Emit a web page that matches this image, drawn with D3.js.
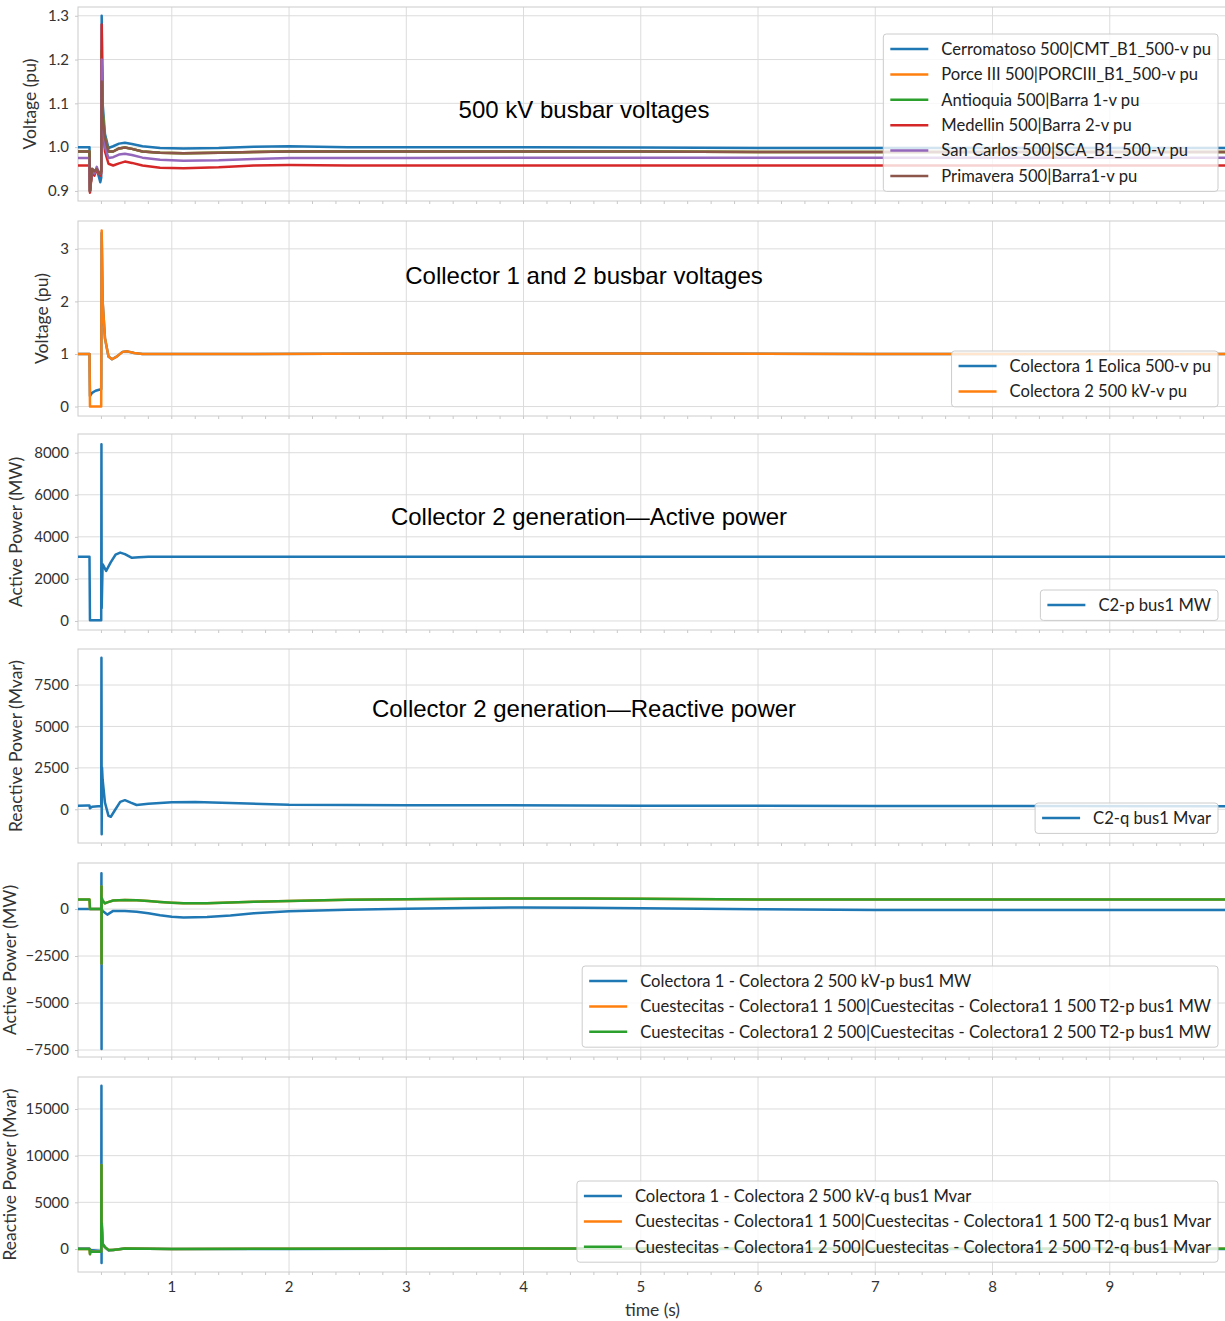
<!DOCTYPE html>
<html>
<head>
<meta charset="utf-8">
<script src="https://cdn.jsdelivr.net/npm/d3@7"></script>
<style>
  body { margin: 0; background: #fff; }
  svg { display: block; }
</style>
</head>
<body>
<div id="chart"></div>
<script>
// ---- data ----
var xTicks = [1, 2, 3, 4, 5, 6, 7, 8, 9];

// panel 1: 500 kV busbar voltages
var T1 = [0.2, 0.298, 0.302, 0.32, 0.34, 0.36, 0.38, 0.39, 0.398, 0.402, 0.41, 0.43, 0.46, 0.5, 0.55, 0.6, 0.66, 0.75, 0.9, 1.1, 1.4, 1.7, 2.0, 2.5, 3, 4, 5, 6, 7, 8, 9, 10];
var cerromatoso = [1.0, 1.0, 0.90, 0.95, 0.94, 0.95, 0.93, 0.92, 0.93, 1.30, 1.10, 1.03, 0.998, 1.002, 1.008, 1.010, 1.007, 1.002, 0.998, 0.997, 0.998, 1.001, 1.002, 1.0, 1.0, 1.0, 0.999, 0.998, 0.998, 0.998, 0.998, 0.998];
var porce = [0.99, 0.99, 0.90, 0.95, 0.945, 0.95, 0.94, 0.94, 0.945, 1.20, 1.08, 1.02, 0.99, 0.99, 0.997, 0.999, 0.996, 0.99, 0.987, 0.986, 0.987, 0.989, 0.99, 0.99, 0.99, 0.99, 0.99, 0.989, 0.989, 0.989, 0.989, 0.989];
var antioquia = [0.99, 0.99, 0.90, 0.95, 0.945, 0.95, 0.94, 0.94, 0.945, 1.22, 1.08, 1.02, 0.99, 0.99, 0.997, 0.999, 0.996, 0.99, 0.987, 0.986, 0.987, 0.989, 0.99, 0.99, 0.99, 0.99, 0.99, 0.989, 0.989, 0.989, 0.989, 0.989];
var medellin = [0.958, 0.958, 0.896, 0.945, 0.935, 0.95, 0.94, 0.935, 0.94, 1.28, 1.05, 0.99, 0.962, 0.958, 0.963, 0.967, 0.964, 0.958, 0.953, 0.952, 0.954, 0.958, 0.959, 0.958, 0.958, 0.958, 0.958, 0.958, 0.958, 0.958, 0.958, 0.958];
var sanCarlos = [0.975, 0.975, 0.90, 0.95, 0.94, 0.955, 0.94, 0.94, 0.945, 1.20, 1.06, 1.0, 0.975, 0.977, 0.983, 0.985, 0.982, 0.976, 0.971, 0.969, 0.970, 0.973, 0.975, 0.975, 0.975, 0.976, 0.976, 0.976, 0.976, 0.976, 0.976, 0.976];
var primavera = [0.99, 0.99, 0.90, 0.95, 0.945, 0.95, 0.94, 0.94, 0.945, 1.15, 1.07, 1.02, 0.99, 0.99, 0.997, 0.999, 0.996, 0.99, 0.987, 0.986, 0.987, 0.989, 0.99, 0.99, 0.99, 0.99, 0.99, 0.989, 0.989, 0.989, 0.989, 0.989];

// panel 2: collector busbar voltages
var T2 = [0.2, 0.298, 0.302, 0.32, 0.35, 0.38, 0.398, 0.402, 0.41, 0.43, 0.46, 0.49, 0.53, 0.58, 0.62, 0.68, 0.75, 0.9, 1.5, 3, 5, 7, 10];
var colectora1V = [1, 1, 0.2, 0.26, 0.3, 0.32, 0.33, 3.3, 2.0, 1.3, 0.95, 0.9, 0.95, 1.04, 1.05, 1.02, 1.0, 1.0, 1.0, 1.01, 1.01, 1.0, 1.0];
var colectora2V = [1, 1, 0, 0, 0, 0, 0, 3.35, 2.0, 1.3, 0.95, 0.9, 0.95, 1.04, 1.05, 1.02, 1.0, 1.0, 1.0, 1.01, 1.01, 1.0, 1.0];

// panel 3: collector 2 active power
var T3 = [0.2, 0.298, 0.302, 0.35, 0.398, 0.400, 0.402, 0.41, 0.44, 0.48, 0.52, 0.56, 0.6, 0.66, 0.72, 0.8, 1, 2, 5, 10];
var c2P = [3050, 3050, 30, 30, 30, 8400, 600, 2700, 2380, 2800, 3150, 3250, 3180, 3000, 3030, 3050, 3050, 3050, 3050, 3050];

// panel 4: collector 2 reactive power
var T4 = [0.2, 0.28, 0.298, 0.302, 0.32, 0.398, 0.400, 0.401, 0.402, 0.405, 0.41, 0.43, 0.46, 0.48, 0.52, 0.56, 0.6, 0.65, 0.7, 0.8, 1.0, 1.2, 1.5, 2.0, 3, 5, 7, 10];
var c2Q = [220, 230, 230, 60, 150, 200, 9150, 6000, -1500, 2500, 1800, 400, -400, -450, 0, 450, 550, 400, 260, 330, 420, 440, 380, 270, 250, 220, 200, 190];

// panel 5: line active power
var T5 = [0.2, 0.298, 0.302, 0.35, 0.398, 0.400, 0.401, 0.402, 0.41, 0.43, 0.45, 0.5, 0.6, 0.7, 0.8, 0.9, 1.0, 1.1, 1.3, 1.5, 1.7, 2.0, 2.5, 3, 3.5, 4, 4.5, 5, 6, 7, 8, 9, 10];
var lineC1C2P = [0, 0, 0, 0, 0, 1900, -7450, 0, -100, -200, -300, -100, -100, -150, -230, -330, -410, -450, -420, -340, -230, -120, -40, 10, 60, 80, 70, 40, -10, -50, -50, -50, -50];
var cuest1P = [500, 500, 0, 0, 0, 1200, -2900, 600, 450, 300, 350, 450, 480, 460, 420, 370, 330, 300, 310, 350, 390, 430, 490, 520, 550, 560, 555, 540, 510, 500, 500, 500, 500];
var cuest2P = [500, 500, 0, 0, 0, 1200, -2900, 600, 450, 300, 350, 450, 480, 460, 420, 370, 330, 300, 310, 350, 390, 430, 490, 520, 550, 560, 555, 540, 510, 500, 500, 500, 500];

// panel 6: line reactive power
var T6 = [0.2, 0.298, 0.302, 0.306, 0.35, 0.398, 0.400, 0.401, 0.402, 0.41, 0.43, 0.46, 0.5, 0.6, 1, 2, 4, 6, 8, 10];
var lineC1C2Q = [50, 50, 0, -100, -150, -200, 17500, -1500, 3000, 600, 200, -150, -100, 50, 0, 0, 50, 0, 0, 0];
var cuest1Q = [0, 0, -550, -300, -300, -300, 9000, 500, 2800, 500, 200, -100, -100, 50, 0, 30, 60, 30, 30, 30];
var cuest2Q = [0, 0, -550, -300, -300, -300, 9000, 500, 2800, 500, 200, -100, -100, 50, 0, 30, 60, 30, 30, 30];

var C = {blue:'#1f77b4', orange:'#ff7f0e', green:'#2ca02c', red:'#d62728', purple:'#9467bd', brown:'#8c564b'};

var panels = [
  {top:7, bottom:201, ydom:[0.877, 1.32], yticks:[0.9, 1.0, 1.1, 1.2, 1.3], fmt:d3.format('.1f'),
   label:'Voltage (pu)', labelX:30, title:'500 kV busbar voltages', titleX:584, titleY:110, legendY:34,
   series:[
     {t:T1, v:cerromatoso, c:C.blue,   name:'Cerromatoso 500|CMT_B1_500-v pu'},
     {t:T1, v:porce,       c:C.orange, name:'Porce III 500|PORCIII_B1_500-v pu'},
     {t:T1, v:antioquia,   c:C.green,  name:'Antioquia 500|Barra 1-v pu'},
     {t:T1, v:medellin,    c:C.red,    name:'Medellin 500|Barra 2-v pu'},
     {t:T1, v:sanCarlos,   c:C.purple, name:'San Carlos 500|SCA_B1_500-v pu'},
     {t:T1, v:primavera,   c:C.brown,  name:'Primavera 500|Barra1-v pu'}]},
  {top:221, bottom:416, ydom:[-0.18, 3.53], yticks:[0, 1, 2, 3], fmt:d3.format('d'),
   label:'Voltage (pu)', labelX:42, title:'Collector 1 and 2 busbar voltages', titleX:584, titleY:276, legendY:351,
   series:[
     {t:T2, v:colectora1V, c:C.blue,   name:'Colectora 1 Eolica 500-v pu'},
     {t:T2, v:colectora2V, c:C.orange, name:'Colectora 2 500 kV-v pu'}]},
  {top:434, bottom:630, ydom:[-430, 8890], yticks:[0, 2000, 4000, 6000, 8000], fmt:d3.format('d'),
   label:'Active Power (MW)', labelX:16, title:'Collector 2 generation\u2014Active power', titleX:589, titleY:517, legendY:590,
   series:[
     {t:T3, v:c2P, c:C.blue, name:'C2-p bus1 MW'}]},
  {top:649, bottom:843, ydom:[-2035, 9674], yticks:[0, 2500, 5000, 7500], fmt:d3.format('d'),
   label:'Reactive Power (Mvar)', labelX:16, title:'Collector 2 generation\u2014Reactive power', titleX:584, titleY:709, legendY:803,
   series:[
     {t:T4, v:c2Q, c:C.blue, name:'C2-q bus1 Mvar'}]},
  {top:863, bottom:1057, ydom:[-7872, 2447], yticks:[-7500, -5000, -2500, 0], fmt:d3.format('d'),
   label:'Active Power (MW)', labelX:10, legendY:966,
   series:[
     {t:T5, v:lineC1C2P, c:C.blue,   name:'Colectora 1 - Colectora 2 500 kV-p bus1 MW'},
     {t:T5, v:cuest1P,   c:C.orange, name:'Cuestecitas - Colectora1 1 500|Cuestecitas - Colectora1 1 500 T2-p bus1 MW'},
     {t:T5, v:cuest2P,   c:C.green,  name:'Cuestecitas - Colectora1 2 500|Cuestecitas - Colectora1 2 500 T2-p bus1 MW'}]},
  {top:1077, bottom:1272, ydom:[-2463, 18426], yticks:[0, 5000, 10000, 15000], fmt:d3.format('d'),
   label:'Reactive Power (Mvar)', labelX:10, legendY:1181,
   series:[
     {t:T6, v:lineC1C2Q, c:C.blue,   name:'Colectora 1 - Colectora 2 500 kV-q bus1 Mvar'},
     {t:T6, v:cuest1Q,   c:C.orange, name:'Cuestecitas - Colectora1 1 500|Cuestecitas - Colectora1 1 500 T2-q bus1 Mvar'},
     {t:T6, v:cuest2Q,   c:C.green,  name:'Cuestecitas - Colectora1 2 500|Cuestecitas - Colectora1 2 500 T2-q bus1 Mvar'}]}
];

var W = 1225, H = 1321;
var left = 78, right = 1227;
var tickFont = 'Lato, "Open Sans", sans-serif';

var svg = d3.select('#chart').append('svg')
    .attr('width', W)
    .attr('height', H);

var x = d3.scaleLinear().domain([0.2, 10]).range([left, right]);
var minor = d3.range(0.4, 10.01, 0.2);

panels.forEach(function(p, pi) {
  var y = d3.scaleLinear().domain(p.ydom).range([p.bottom, p.top]);
  var g = svg.append('g');

  // clip
  svg.append('clipPath').attr('id', 'clip' + pi)
    .append('rect')
    .attr('x', left).attr('y', p.top)
    .attr('width', right - left).attr('height', p.bottom - p.top);

  // grid
  g.selectAll('.gx').data(xTicks).enter().append('line')
    .attr('x1', function(d) { return x(d); }).attr('x2', function(d) { return x(d); })
    .attr('y1', p.top).attr('y2', p.bottom)
    .style('stroke', '#dcdcdc').style('stroke-width', 1);
  g.selectAll('.gy').data(p.yticks).enter().append('line')
    .attr('x1', left).attr('x2', right)
    .attr('y1', function(d) { return y(d); }).attr('y2', function(d) { return y(d); })
    .style('stroke', '#dcdcdc').style('stroke-width', 1);

  // minor ticks at bottom
  g.selectAll('.mt').data(minor).enter().append('line')
    .attr('x1', function(d) { return x(d); }).attr('x2', function(d) { return x(d); })
    .attr('y1', p.bottom).attr('y2', p.bottom + 3)
    .style('stroke', '#c8c8c8').style('stroke-width', 1);

  // frame
  g.append('rect')
    .attr('x', left).attr('y', p.top)
    .attr('width', right - left).attr('height', p.bottom - p.top)
    .style('fill', 'none').style('stroke', '#cccccc').style('stroke-width', 1);

  // y axis
  var ya = g.append('g')
    .attr('transform', 'translate(' + left + ',0)')
    .call(d3.axisLeft(y).tickValues(p.yticks).tickFormat(p.fmt).tickSize(3).tickPadding(6));
  ya.select('.domain').remove();
  ya.selectAll('.tick line').style('stroke', '#c8c8c8');
  ya.selectAll('.tick text').style('font-size', '15px').style('font-family', tickFont).style('fill', '#333');

  // y label
  g.append('text')
    .attr('transform', 'translate(' + p.labelX + ',' + ((p.top + p.bottom) / 2) + ') rotate(-90)')
    .attr('text-anchor', 'middle')
    .attr('dy', '0.35em')
    .style('font-family', tickFont)
    .style('font-size', '17.5px')
    .style('fill', '#333')
    .text(p.label);

  // lines
  var lines = g.append('g').attr('clip-path', 'url(#clip' + pi + ')');
  p.series.forEach(function(s) {
    var pts = s.t.map(function(t, i) { return [t, s.v[i]]; });
    lines.append('path')
      .datum(pts)
      .attr('d', d3.line().x(function(d) { return x(d[0]); }).y(function(d) { return y(d[1]); }))
      .style('fill', 'none')
      .style('stroke', s.c)
      .style('stroke-width', 2.5)
      .style('stroke-linejoin', 'round');
  });

  // title
  if (p.title) {
    g.append('text')
      .attr('x', p.titleX).attr('y', p.titleY)
      .attr('text-anchor', 'middle')
      .attr('dy', '0.35em')
      .style('font-family', '"Liberation Sans", Arial, sans-serif')
      .style('font-size', '24px')
      .style('fill', '#000')
      .text(p.title);
  }

  // legend
  var lg = g.append('g');
  var box = lg.append('rect');
  var texts = [];
  var maxW = 0;
  p.series.forEach(function(s, i) {
    var t = lg.append('text')
      .attr('y', p.legendY + 15 + i * 25.4)
      .attr('dy', '0.35em')
      .style('font-family', tickFont)
      .style('font-size', '16.6px')
      .style('fill', '#222')
      .text(s.name);
    texts.push(t);
    maxW = Math.max(maxW, t.node().getComputedTextLength());
  });
  var bx1 = 1218;
  var tx = bx1 - 7 - maxW;
  texts.forEach(function(t) { t.attr('x', tx); });
  p.series.forEach(function(s, i) {
    lg.append('line')
      .attr('x1', tx - 51).attr('x2', tx - 13)
      .attr('y1', p.legendY + 15 + i * 25.4).attr('y2', p.legendY + 15 + i * 25.4)
      .style('stroke', s.c).style('stroke-width', 2.5);
  });
  box.attr('x', tx - 58).attr('y', p.legendY)
    .attr('width', bx1 - (tx - 58)).attr('height', p.series.length * 25.4 + 5)
    .attr('rx', 3)
    .style('fill', '#fff').style('fill-opacity', 0.8)
    .style('stroke', '#cccccc').style('stroke-width', 1);

  // x tick labels on bottom panel
  if (pi === panels.length - 1) {
    g.selectAll('.xl').data(xTicks).enter().append('text')
      .attr('x', function(d) { return x(d); })
      .attr('y', p.bottom + 20)
      .attr('text-anchor', 'middle')
      .style('font-family', tickFont)
      .style('font-size', '15px')
      .style('fill', '#333')
      .text(function(d) { return d; });
    g.append('text')
      .attr('x', (left + right) / 2)
      .attr('y', p.bottom + 44)
      .attr('text-anchor', 'middle')
      .style('font-family', tickFont)
      .style('font-size', '17.5px')
      .style('fill', '#333')
      .text('time (s)');
  }
});
</script>
</body>
</html>
